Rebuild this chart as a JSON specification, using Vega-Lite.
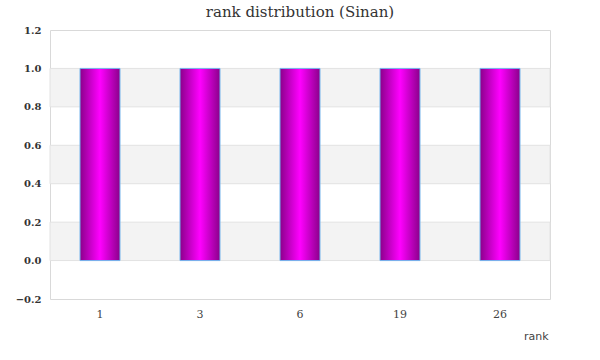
{
  "$schema": "https://vega.github.io/schema/vega-lite/v6.json",
  "width": 500,
  "height": 269,
  "autosize": "none",
  "padding": {"left": 50, "top": 30, "right": 50, "bottom": 61},
  "background": "white",
  "title": {
    "text": "rank distribution (Sinan)",
    "font": "DejaVu Serif",
    "fontSize": 15,
    "fontWeight": "normal",
    "color": "#333333",
    "offset": 5,
    "anchor": "middle"
  },
  "config": {
    "view": {"stroke": "#d9d9d9", "strokeWidth": 1},
    "axis": {"domain": false, "ticks": false, "grid": false, "labelOverlap": false, "labelBound": false, "labelFlush": false}
  },
  "layer": [
    {
      "data": {"values": [
        {"lo": 0.0, "hi": 0.2},
        {"lo": 0.4, "hi": 0.6},
        {"lo": 0.8, "hi": 1.0}
      ]},
      "mark": {"type": "rect", "fill": "#f3f3f3", "stroke": "#e2e2e2", "strokeWidth": 1},
      "encoding": {
        "y": {
          "field": "lo",
          "type": "quantitative",
          "scale": {"domain": [-0.2, 1.2], "nice": false, "zero": false},
          "axis": {
            "values": [-0.2, 0, 0.2, 0.4, 0.6, 0.8, 1.0, 1.2],
            "format": ".1f",
            "labelOverlap": false,
            "labelFont": "DejaVu Serif",
            "labelFontSize": 10,
            "labelFontWeight": "bold",
            "labelColor": "#333333",
            "labelPadding": 9,
            "title": null
          }
        },
        "y2": {"field": "hi"}
      }
    },
    {
      "data": {"values": [
        {"rank": 1, "count": 1},
        {"rank": 3, "count": 1},
        {"rank": 6, "count": 1},
        {"rank": 19, "count": 1},
        {"rank": 26, "count": 1}
      ]},
      "mark": {
        "type": "bar",
        "stroke": "#74b4ec",
        "strokeWidth": 1,
        "color": {
          "gradient": "linear",
          "x1": 0, "y1": 0, "x2": 1, "y2": 0,
          "stops": [
            {"offset": 0, "color": "#8b008b"},
            {"offset": 0.5, "color": "#ff00ff"},
            {"offset": 1, "color": "#8b008b"}
          ]
        }
      },
      "encoding": {
        "x": {
          "field": "rank",
          "type": "ordinal",
          "sort": "ascending",
          "scale": {"paddingInner": 0.6, "paddingOuter": 0.3},
          "axis": {
            "labelAngle": 0,
            "labelFont": "DejaVu Serif",
            "labelFontSize": 11,
            "labelColor": "#444444",
            "labelPadding": 9,
            "title": "rank",
            "titleFont": "DejaVu Sans",
            "titleFontSize": 11,
            "titleFontWeight": "normal",
            "titleColor": "#444444",
            "titleAnchor": "end",
            "titleAlign": "right",
            "titleX": 498,
            "titleY": 31
          }
        },
        "y": {
          "field": "count",
          "type": "quantitative",
          "scale": {"domain": [-0.2, 1.2], "nice": false, "zero": false},
          "axis": {
            "values": [-0.2, 0, 0.2, 0.4, 0.6, 0.8, 1.0, 1.2],
            "format": ".1f",
            "labelOverlap": false,
            "labelFont": "DejaVu Serif",
            "labelFontSize": 10,
            "labelFontWeight": "bold",
            "labelColor": "#333333",
            "labelPadding": 9,
            "title": null
          }
        }
      }
    }
  ]
}
